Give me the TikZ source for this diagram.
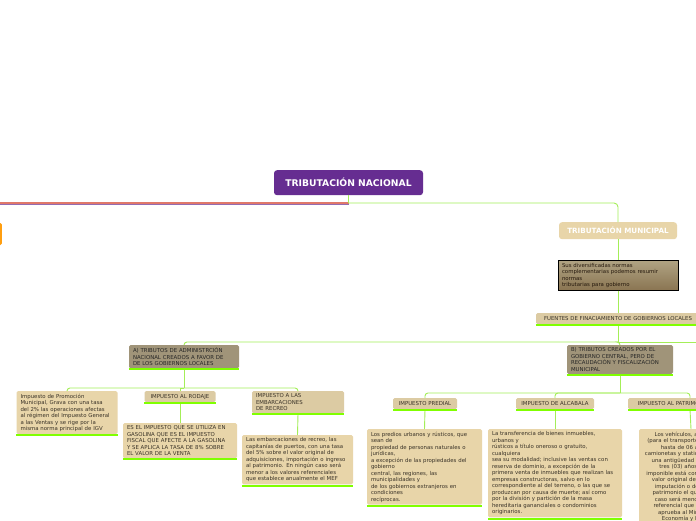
\documentclass[tikz,border=0pt]{standalone}
\usepackage{fontspec}
\setmainfont{DejaVu Sans}
\usetikzlibrary{calc}
\definecolor{tnac}{HTML}{662D91}
\definecolor{ttan}{HTML}{E8D5A9}
\definecolor{thead}{HTML}{DCCBA3}
\definecolor{tdark}{HTML}{A09479}
\definecolor{tlime}{HTML}{80FF00}
\definecolor{tlink}{HTML}{A4EE58}
\definecolor{ttext}{HTML}{3A3328}
\definecolor{torange}{HTML}{FF9E10}
\definecolor{tred}{HTML}{E0786A}
\definecolor{tdesctop}{HTML}{B0A383}
\definecolor{tdescbot}{HTML}{8A7552}

\begin{document}
\begin{tikzpicture}[x=1pt, y=-1pt,
  font=\fontsize{5.4}{6.5}\selectfont,
  box/.style={fill=ttan, rounded corners=1.5pt, text=ttext, inner xsep=4pt, inner ysep=2.5pt,
              align=left, anchor=north},
  head/.style={box, fill=thead, align=center, minimum height=11pt, inner ysep=2pt},
  tema/.style={box, fill=tdark, text=black!85},
  big/.style={anchor=north, rounded corners=3pt, text=white, inner sep=2pt},
  link/.style={tlink, line width=0.9pt, rounded corners=3pt},
  uline/.style={tlime, line width=2pt},
]
\path[fill=white, use as bounding box] (0,0) rectangle (696,520);

% ---------------- top of the map ----------------
\node[big, fill=tnac, minimum width=149pt, minimum height=25pt,
      font=\bfseries\fontsize{9.2}{10}\selectfont] (nac) at (348.5,170) {TRIBUTACIÓN NACIONAL};
\node[anchor=east, fill=torange, rounded corners=1.5pt, minimum width=40pt, minimum height=22pt] (otra) at (2,234) {};
\coordinate (nacfork) at (348.5,203);
\coordinate (farleft) at (-20,203);
\draw[tnac!70, line width=0.5pt] ([yshift=-1pt]nacfork) -- ([yshift=-1pt]farleft);
\draw[tred, line width=1.2pt] (nacfork) -- (farleft);
\draw[link, rounded corners=0pt] (nac.south) -- (nacfork);

% ---------------- municipal branch ----------------
\node[big, fill=ttan, minimum width=118pt, minimum height=17pt,
      font=\bfseries\fontsize{7.2}{8}\selectfont] (munic) at (618,222) {TRIBUTACIÓN MUNICIPAL};
\draw[link, rounded corners=4pt] (nacfork) -| (munic.north);
\node[box, draw=black, line width=0.9pt, rounded corners=0pt, top color=tdesctop, bottom color=tdescbot,
      text=black!80!brown, text width=112pt] (desc) at (618,260)
  {Sus diversificadas normas\\complementarias podemos resumir\\normas\\tributarias para gobierno};
\node[head, minimum width=164pt] (fuentes) at (618,313) {FUENTES DE FINACIAMIENTO DE GOBIERNOS LOCALES};
\draw[link] (munic.south) -- (desc.north);
\draw[link] (desc.south) -- (fuentes.north);

\node[tema, text width=102pt] (trA) at (184,345)
  {A) TRIBUTOS DE ADMINISTRCIÓN\\NACIONAL CREADOS A FAVOR DE\\DE LOS GOBIERNOS LOCALES};
\node[tema, text width=98pt] (trB) at (620,345)
  {B) TRIBUTOS CREADOS POR EL\\GOBIERNO CENTRAL, PERO DE\\RECAUDACIÓN Y FISCALIZACIÓN\\MUNICIPAL};
\coordinate (fork1) at (618,342);
\coordinate (farright) at (720,342);
\draw[link] (fuentes.south) -- (fork1);
\draw[link] (fork1) -| (trB.north);
\draw[link] (fork1) -| (trA.north);
\draw[link] (fork1) -- (farright);

% ---------------- A) children ----------------
\node[box, text width=93pt] (promo) at (67,391)
  {Impuesto de Promoción\\Municipal, Grava con una tasa\\del 2\% las operaciones afectas\\al régimen del Impuesto General\\a las Ventas y se rige por la\\misma norma principal de IGV};
\node[head, minimum width=71pt] (rodaje) at (180,391) {IMPUESTO AL RODAJE};
\node[box, text width=106pt] (es) at (180,423)
  {ES EL IMPUESTO QUE SE UTILIZA EN\\GASOLINA QUE ES EL IMPUESTO\\FISCAL QUE AFECTE A LA GASOLINA\\Y SE APLICA LA TASA DE 8\% SOBRE\\EL VALOR DE LA VENTA};
\node[box, fill=thead, text width=84pt] (embarc) at (298,391) {IMPUESTO A LAS\\EMBARCACIONES\\DE RECREO};
\node[box, text width=103pt] (lasemb) at (297.5,435)
  {Las embarcaciones de recreo, las\\capitanías de puertos, con una tasa\\del 5\% sobre el valor original de\\adquisiciones, importación o ingreso\\al patrimonio. En ningún caso será\\menor a los valores referenciales\\que establece anualmente el MEF};
\coordinate (forkA) at (184,388);
\draw[link, rounded corners=0pt] (trA.south) -- (forkA);
\draw[link] (forkA) -| (promo.north);
\draw[link] (forkA) -| (embarc.north);
\draw[link, rounded corners=0pt] (forkA) -| (rodaje.north);
\draw[link] (rodaje.south) -- (es.north);
\draw[link] (embarc.south) -- (lasemb.north);

% ---------------- B) children ----------------
\node[head, minimum width=64pt] (predial) at (425,398) {IMPUESTO PREDIAL};
\node[box, text width=107pt] (predtxt) at (424.5,429)
  {Los predios urbanos y rústicos, que\\sean de\\propiedad de personas naturales o\\jurídicas,\\a excepción de las propiedades del\\gobierno\\central, las regiones, las\\municipalidades y\\de los gobiernos extranjeros en\\condiciones\\recíprocas.};
\node[head, minimum width=78pt] (alcab) at (555,398) {IMPUESTO DE ALCABALA};
\node[box, text width=126pt] (alctxt) at (555,429)
  {La transferencia de bienes inmuebles,\\urbanos y\\rústicos a título oneroso o gratuito,\\cualquiera\\sea su modalidad; inclusive las ventas con\\reserva de dominio, a excepción de la\\primera venta de inmuebles que realizan las\\empresas constructoras, salvo en lo\\correspondiente al del terreno, o las que se\\produzcan por causa de muerte; así como\\por la división y partición de la masa\\hereditaria gananciales o condominios\\originarios.};
\node[head, minimum width=124pt] (patrim) at (690,398) {IMPUESTO AL PATRIMONIO VEHICULAR};
\node[box, text width=96pt, align=center] (pattxt) at (691,429)
  {Los vehículos, automóviles\\(para el transporte de pasajeros\\hasta de 06 asientos),\\camionetas y station wagons, con\\una antigüedad no mayor de\\tres (03) años. La base\\imponible está constituida por el\\valor original de adquisición,\\imputación o de ingreso al\\patrimonio el que en ningún\\caso será menor a la tabla\\referencial que anualmente\\aprueba al Ministerio de\\Economía y Finanzas.};
\coordinate (forkB) at (620,393);
\draw[link, rounded corners=0pt] (trB.south) -- (forkB);
\draw[link] (forkB) -| (predial.north);
\draw[link] (forkB) -| (alcab.north);
\draw[link] (forkB) -| (patrim.north);
\draw[link] (predial.south) -- (predtxt.north);
\draw[link] (alcab.south) -- (alctxt.north);
\draw[link] (patrim.south) -- (pattxt.north);

% ---------------- the green bars under the topics ----------------
\foreach \n in {fuentes,trA,trB,promo,rodaje,es,embarc,lasemb,predial,predtxt,alcab,alctxt,patrim}
  \draw[uline] ([yshift=-1pt]\n.south west) -- ([yshift=-1pt]\n.south east);
\end{tikzpicture}
\end{document}
